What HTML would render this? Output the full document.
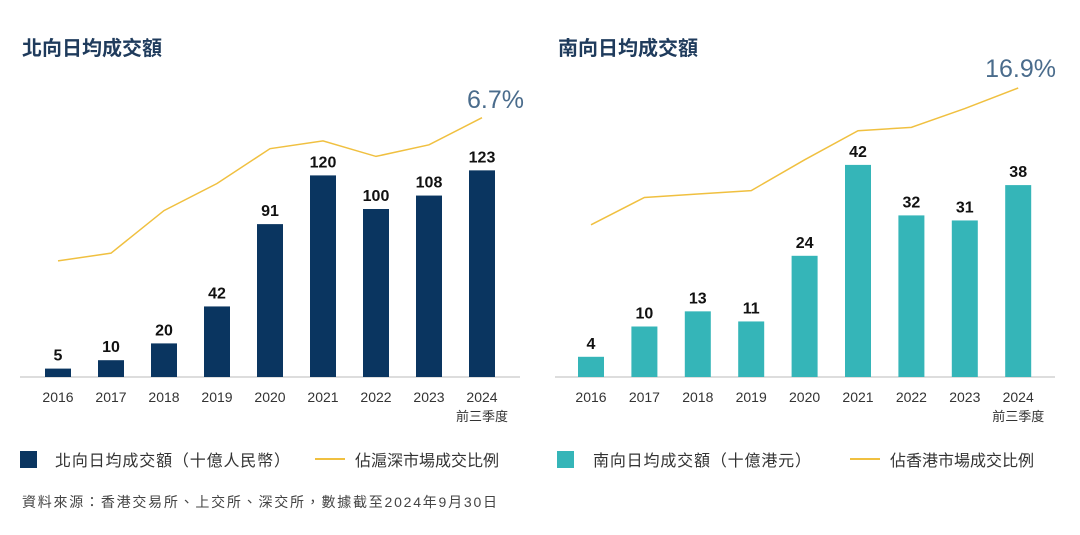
<!DOCTYPE html>
<html><head><meta charset="utf-8">
<style>
body{margin:0;background:#fff;width:1080px;height:530px;overflow:hidden;font-family:"Liberation Sans","Noto Sans CJK TC",sans-serif}
svg text{font-family:"Liberation Sans","Noto Sans CJK TC",sans-serif}
</style></head>
<body>
<svg id="c" width="1080" height="530">
<text x="22" y="55" font-size="20" font-weight="bold" fill="#1f3b5c">北向日均成交額</text>
<text x="558" y="55" font-size="20" font-weight="bold" fill="#1f3b5c">南向日均成交額</text>
<g id="L"></g><g id="R"></g>
<rect x="20" y="451" width="17" height="17" fill="#0a3560"/>
<text x="55" y="466" font-size="16" fill="#333" textLength="235">北向日均成交額（十億人民幣）</text>
<line x1="315" y1="459" x2="345" y2="459" stroke="#f0c040" stroke-width="2"/>
<text x="355" y="466" font-size="16" fill="#333">佔滬深市場成交比例</text>
<rect x="557" y="451" width="17" height="17" fill="#35b5b8"/>
<text x="593" y="466" font-size="16" fill="#333" textLength="218">南向日均成交額（十億港元）</text>
<line x1="850" y1="459" x2="880" y2="459" stroke="#f0c040" stroke-width="2"/>
<text x="890" y="466" font-size="16" fill="#333">佔香港市場成交比例</text>
<text x="22" y="507" font-size="14" fill="#444" textLength="475">資料來源：香港交易所、上交所、深交所，數據截至2024年9月30日</text>
</svg>
<script>
const years=["2016","2017","2018","2019","2020","2021","2022","2023","2024"];
const northValues=[5,10,20,42,91,120,100,108,123];
const northRatio=[3.0,3.2,4.3,5.0,5.9,6.1,5.7,6.0,6.7];
const southValues=[4,10,13,11,24,42,32,31,38];
const southRatio=[8.9,10.5,10.7,10.9,12.7,14.4,14.6,15.7,16.9];
const NS="http://www.w3.org/2000/svg";
function mk(p,t,a){const e=document.createElementNS(NS,t);for(const k in a)e.setAttribute(k,a[k]);p.appendChild(e);return e;}
function draw(id,x0,x1,c0,step,vals,vs,ratio,rs,color,pfx,pctLabel,pctX,pctY){
 const g=document.getElementById(id);const base=377;
 const xs=i=>c0+i*step, yv=v=>base-v*vs, yr=r=>base-r*rs;
 let ax=mk(g,'line',{x1:x0,x2:x1,y1:base,y2:base,stroke:'#bbb','stroke-width':1});
 
 
 vals.forEach((v,i)=>{
  let r=mk(g,'rect',{x:xs(i)-13,y:yv(v),width:26,height:base-yv(v),fill:color});
  
  
  let t=mk(g,'text',{x:xs(i),y:yv(v)-8,'text-anchor':'middle','font-size':16,'font-weight':'bold',fill:'#111'});t.textContent=v;
  
  
  let l=mk(g,'text',{x:xs(i),y:402,'text-anchor':'middle','font-size':14,fill:'#333'});l.textContent=years[i];
  
  
 });
 let q=mk(g,'text',{x:xs(8),y:421,'text-anchor':'middle','font-size':13,fill:'#333'});q.textContent='前三季度';
 
 
 let pl=mk(g,'polyline',{points:ratio.map((r,i)=>xs(i)+','+yr(r)).join(' '),fill:'none',stroke:'#f0c040','stroke-width':1.5});
 
 
 let p=mk(g,'text',{x:pctX,y:pctY,'text-anchor':'end','font-size':25,fill:'#4a6c8c'});p.textContent=pctLabel;
 
 
}
draw('L',20,520,58,53,northValues,1.68,northRatio,38.7,'#0a3560','north',northRatio[8]+'%',524,108);
draw('R',555,1055,591,53.4,southValues,5.05,southRatio,17.1,'#35b5b8','south',southRatio[8]+'%',1056,77);
</script>
</body></html>
